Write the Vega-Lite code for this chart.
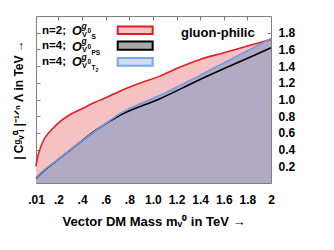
{
  "$schema": "https://vega.github.io/schema/vega-lite/v6.json",
  "width": 235,
  "height": 167,
  "autosize": {"type": "none"},
  "padding": {"left": 36, "top": 16, "right": 63, "bottom": 67},
  "datasets": {
    "curves": [
      {"series": "red", "m": 0.01, "v": 0.20},
      {"series": "red", "m": 0.02, "v": 0.29},
      {"series": "red", "m": 0.04, "v": 0.39},
      {"series": "red", "m": 0.07, "v": 0.50},
      {"series": "red", "m": 0.1, "v": 0.57},
      {"series": "red", "m": 0.15, "v": 0.65},
      {"series": "red", "m": 0.2, "v": 0.72},
      {"series": "red", "m": 0.3, "v": 0.82},
      {"series": "red", "m": 0.4, "v": 0.89},
      {"series": "red", "m": 0.5, "v": 0.96},
      {"series": "red", "m": 0.6, "v": 1.02},
      {"series": "red", "m": 0.72, "v": 1.10},
      {"series": "red", "m": 0.9, "v": 1.20},
      {"series": "red", "m": 1.06, "v": 1.28},
      {"series": "red", "m": 1.2, "v": 1.37},
      {"series": "red", "m": 1.4, "v": 1.48},
      {"series": "red", "m": 1.6, "v": 1.56},
      {"series": "red", "m": 1.8, "v": 1.64},
      {"series": "red", "m": 2.0, "v": 1.72},
      {"series": "blue", "m": 0.01, "v": 0.06},
      {"series": "blue", "m": 0.1, "v": 0.18},
      {"series": "blue", "m": 0.18, "v": 0.26},
      {"series": "blue", "m": 0.35, "v": 0.45},
      {"series": "blue", "m": 0.52, "v": 0.63},
      {"series": "blue", "m": 0.72, "v": 0.83},
      {"series": "blue", "m": 1.06, "v": 1.05},
      {"series": "blue", "m": 1.4, "v": 1.29},
      {"series": "blue", "m": 1.7, "v": 1.51},
      {"series": "blue", "m": 2.0, "v": 1.73},
      {"series": "black", "m": 0.01, "v": 0.055},
      {"series": "black", "m": 0.1, "v": 0.175},
      {"series": "black", "m": 0.18, "v": 0.26},
      {"series": "black", "m": 0.35, "v": 0.45},
      {"series": "black", "m": 0.52, "v": 0.635},
      {"series": "black", "m": 0.72, "v": 0.81},
      {"series": "black", "m": 1.06, "v": 1.01},
      {"series": "black", "m": 1.4, "v": 1.24},
      {"series": "black", "m": 1.7, "v": 1.43},
      {"series": "black", "m": 2.0, "v": 1.62}
    ]
  },
  "resolve": {"axis": {"x": "independent", "y": "independent"}},
  "layer": [
    {
      "data": {"name": "curves"},
      "transform": [{"filter": "datum.series == 'red'"}],
      "mark": {"type": "area", "fill": "#f5c1c3", "interpolate": "monotone"},
      "encoding": {
        "x": {"field": "m", "type": "quantitative", "scale": {"domain": [0.01, 2], "nice": false, "zero": false},
          "axis": {"orient": "bottom", "values": [0.01, 0.2, 0.4, 0.6, 0.8, 1.0, 1.2, 1.4, 1.6, 1.8, 2],
            "labelExpr": "datum.value == 0.01 ? '.01' : datum.value == 2 ? '2' : datum.value < 1 ? replace(format(datum.value, '.1f'), '0.', '.') : format(datum.value, '.1f')",
            "labelPadding": 15, "labelFlush": false, "title": "Vector DM Mass mᵥ⁰ in TeV →", "titlePadding": 10}},
        "y": {"field": "v", "type": "quantitative", "scale": {"domain": [0, 2], "nice": false},
          "axis": {"orient": "left", "values": [0.2, 0.4, 0.6, 0.8, 1.0, 1.2, 1.4, 1.6, 1.8], "labels": false,
            "title": "| Cᵍᵥ⁰ᵢ |⁻¹ᐟⁿ Λ in  TeV →", "titleFontSize": 12, "titlePadding": 10}},
        "y2": {"datum": 0}
      }
    },
    {
      "data": {"name": "curves"},
      "transform": [{"filter": "datum.series == 'blue'"}],
      "mark": {"type": "area", "fill": "#b2a9c4", "interpolate": "monotone"},
      "encoding": {
        "x": {"field": "m", "type": "quantitative",
          "axis": {"orient": "top", "values": [0.2, 0.4, 0.6, 0.8, 1.0, 1.2, 1.4, 1.6, 1.8], "labels": false, "title": null}},
        "y": {"field": "v", "type": "quantitative",
          "axis": {"orient": "right", "values": [0.2, 0.4, 0.6, 0.8, 1.0, 1.2, 1.4, 1.6, 1.8], "format": ".1f", "labelPadding": 11, "title": null}},
        "y2": {"datum": 0}
      }
    },
    {
      "data": {"name": "curves"},
      "transform": [{"filter": "datum.series == 'black'"}],
      "mark": {"type": "area", "fill": "#b2a9c4", "interpolate": "monotone"},
      "encoding": {
        "x": {"field": "m", "type": "quantitative", "axis": null},
        "y": {"field": "v", "type": "quantitative", "axis": null},
        "y2": {"datum": 0}
      }
    },
    {
      "data": {"name": "curves"},
      "transform": [{"filter": "datum.series == 'red'"}],
      "mark": {"type": "line", "stroke": "#e31d25", "strokeWidth": 1.6, "interpolate": "monotone"},
      "encoding": {
        "x": {"field": "m", "type": "quantitative", "axis": null},
        "y": {"field": "v", "type": "quantitative", "axis": null}
      }
    },
    {
      "data": {"name": "curves"},
      "transform": [{"filter": "datum.series == 'black'"}],
      "mark": {"type": "line", "stroke": "#000000", "strokeWidth": 1.6, "interpolate": "monotone"},
      "encoding": {
        "x": {"field": "m", "type": "quantitative", "axis": null},
        "y": {"field": "v", "type": "quantitative", "axis": null}
      }
    },
    {
      "data": {"name": "curves"},
      "transform": [{"filter": "datum.series == 'blue'"}],
      "mark": {"type": "line", "stroke": "#6e9de6", "strokeWidth": 1.6, "interpolate": "monotone"},
      "encoding": {
        "x": {"field": "m", "type": "quantitative", "axis": null},
        "y": {"field": "v", "type": "quantitative", "axis": null}
      }
    },
    {
      "data": {"values": [{"label": "gluon-philic"}]},
      "mark": {"type": "text", "font": "Liberation Sans", "fontWeight": "bold", "fontSize": 13, "align": "center", "baseline": "middle"},
      "encoding": {
        "x": {"datum": 1.55, "type": "quantitative", "axis": null},
        "y": {"datum": 1.80, "type": "quantitative", "axis": null},
        "text": {"field": "label"}
      }
    },
    {
      "data": {"values": [{"entry": "S"}]},
      "mark": {"type": "rect", "fill": "#f6c3c4", "stroke": "#e31d25", "strokeWidth": 2},
      "encoding": {
        "x": {"datum": 0.702, "type": "quantitative", "axis": null}, "x2": {"datum": 0.998},
        "y": {"datum": 1.875, "type": "quantitative", "axis": null}, "y2": {"datum": 1.784}
      }
    },
    {
      "data": {"values": [{"entry": "PS"}]},
      "mark": {"type": "rect", "fill": "#a9a9a9", "stroke": "#000000", "strokeWidth": 2},
      "encoding": {
        "x": {"datum": 0.702, "type": "quantitative", "axis": null}, "x2": {"datum": 0.998},
        "y": {"datum": 1.696, "type": "quantitative", "axis": null}, "y2": {"datum": 1.597}
      }
    },
    {
      "data": {"values": [{"entry": "T2"}]},
      "mark": {"type": "rect", "fill": "#cfdcf3", "stroke": "#7aa6ea", "strokeWidth": 2},
      "encoding": {
        "x": {"datum": 0.702, "type": "quantitative", "axis": null}, "x2": {"datum": 0.998},
        "y": {"datum": 1.497, "type": "quantitative", "axis": null}, "y2": {"datum": 1.405}
      }
    },
    {
      "data": {"values": [{"t": "n=2;"}]},
      "mark": {"type": "text", "font": "Liberation Sans", "fontWeight": "bold", "fontSize": 11.5, "align": "left", "baseline": "middle"},
      "encoding": {"x": {"datum": 0.061, "type": "quantitative", "axis": null}, "y": {"datum": 1.823, "type": "quantitative", "axis": null}, "text": {"field": "t"}}
    },
    {
      "data": {"values": [{"t": "n=4;"}]},
      "mark": {"type": "text", "font": "Liberation Sans", "fontWeight": "bold", "fontSize": 11.5, "align": "left", "baseline": "middle"},
      "encoding": {"x": {"datum": 0.061, "type": "quantitative", "axis": null}, "y": {"datum": 1.636, "type": "quantitative", "axis": null}, "text": {"field": "t"}}
    },
    {
      "data": {"values": [{"t": "n=4;"}]},
      "mark": {"type": "text", "font": "Liberation Sans", "fontWeight": "bold", "fontSize": 11.5, "align": "left", "baseline": "middle"},
      "encoding": {"x": {"datum": 0.061, "type": "quantitative", "axis": null}, "y": {"datum": 1.453, "type": "quantitative", "axis": null}, "text": {"field": "t"}}
    },
    {
      "data": {"values": [{"t": "O"}]},
      "mark": {"type": "text", "font": "Liberation Sans", "fontWeight": "bold", "fontStyle": "italic", "fontSize": 12.5, "align": "left", "baseline": "middle", "dx": 30, "dy": 0.5},
      "encoding": {"x": {"datum": 0.061, "type": "quantitative", "axis": null}, "y": {"datum": 1.823, "type": "quantitative", "axis": null}, "text": {"field": "t"}}
    },
    {
      "data": {"values": [{"t": "O"}]},
      "mark": {"type": "text", "font": "Liberation Sans", "fontWeight": "bold", "fontStyle": "italic", "fontSize": 12.5, "align": "left", "baseline": "middle", "dx": 30, "dy": 0.5},
      "encoding": {"x": {"datum": 0.061, "type": "quantitative", "axis": null}, "y": {"datum": 1.636, "type": "quantitative", "axis": null}, "text": {"field": "t"}}
    },
    {
      "data": {"values": [{"t": "O"}]},
      "mark": {"type": "text", "font": "Liberation Sans", "fontWeight": "bold", "fontStyle": "italic", "fontSize": 12.5, "align": "left", "baseline": "middle", "dx": 30, "dy": 0.5},
      "encoding": {"x": {"datum": 0.061, "type": "quantitative", "axis": null}, "y": {"datum": 1.453, "type": "quantitative", "axis": null}, "text": {"field": "t"}}
    },
    {
      "data": {"values": [{"t": "g"}]},
      "mark": {"type": "text", "font": "Liberation Sans", "fontWeight": "bold", "fontStyle": "italic", "fontSize": 8.5, "align": "left", "baseline": "middle", "dx": 39.5, "dy": -5},
      "encoding": {"x": {"datum": 0.061, "type": "quantitative", "axis": null}, "y": {"datum": 1.823, "type": "quantitative", "axis": null}, "text": {"field": "t"}}
    },
    {
      "data": {"values": [{"t": "g"}]},
      "mark": {"type": "text", "font": "Liberation Sans", "fontWeight": "bold", "fontStyle": "italic", "fontSize": 8.5, "align": "left", "baseline": "middle", "dx": 39.5, "dy": -5},
      "encoding": {"x": {"datum": 0.061, "type": "quantitative", "axis": null}, "y": {"datum": 1.636, "type": "quantitative", "axis": null}, "text": {"field": "t"}}
    },
    {
      "data": {"values": [{"t": "g"}]},
      "mark": {"type": "text", "font": "Liberation Sans", "fontWeight": "bold", "fontStyle": "italic", "fontSize": 8.5, "align": "left", "baseline": "middle", "dx": 39.5, "dy": -5},
      "encoding": {"x": {"datum": 0.061, "type": "quantitative", "axis": null}, "y": {"datum": 1.453, "type": "quantitative", "axis": null}, "text": {"field": "t"}}
    },
    {
      "data": {"values": [{"t": "V"}]},
      "mark": {"type": "text", "font": "Liberation Sans", "fontWeight": "bold", "fontSize": 7.5, "align": "left", "baseline": "middle", "dx": 40, "dy": 4},
      "encoding": {"x": {"datum": 0.061, "type": "quantitative", "axis": null}, "y": {"datum": 1.823, "type": "quantitative", "axis": null}, "text": {"field": "t"}}
    },
    {
      "data": {"values": [{"t": "V"}]},
      "mark": {"type": "text", "font": "Liberation Sans", "fontWeight": "bold", "fontSize": 7.5, "align": "left", "baseline": "middle", "dx": 40, "dy": 4},
      "encoding": {"x": {"datum": 0.061, "type": "quantitative", "axis": null}, "y": {"datum": 1.636, "type": "quantitative", "axis": null}, "text": {"field": "t"}}
    },
    {
      "data": {"values": [{"t": "V"}]},
      "mark": {"type": "text", "font": "Liberation Sans", "fontWeight": "bold", "fontSize": 7.5, "align": "left", "baseline": "middle", "dx": 40, "dy": 4},
      "encoding": {"x": {"datum": 0.061, "type": "quantitative", "axis": null}, "y": {"datum": 1.453, "type": "quantitative", "axis": null}, "text": {"field": "t"}}
    },
    {
      "data": {"values": [{"t": "0"}]},
      "mark": {"type": "text", "font": "Liberation Sans", "fontWeight": "bold", "fontSize": 6.5, "align": "left", "baseline": "middle", "dx": 45.5, "dy": 0.5},
      "encoding": {"x": {"datum": 0.061, "type": "quantitative", "axis": null}, "y": {"datum": 1.823, "type": "quantitative", "axis": null}, "text": {"field": "t"}}
    },
    {
      "data": {"values": [{"t": "0"}]},
      "mark": {"type": "text", "font": "Liberation Sans", "fontWeight": "bold", "fontSize": 6.5, "align": "left", "baseline": "middle", "dx": 45.5, "dy": 0.5},
      "encoding": {"x": {"datum": 0.061, "type": "quantitative", "axis": null}, "y": {"datum": 1.636, "type": "quantitative", "axis": null}, "text": {"field": "t"}}
    },
    {
      "data": {"values": [{"t": "0"}]},
      "mark": {"type": "text", "font": "Liberation Sans", "fontWeight": "bold", "fontSize": 6.5, "align": "left", "baseline": "middle", "dx": 45.5, "dy": 0.5},
      "encoding": {"x": {"datum": 0.061, "type": "quantitative", "axis": null}, "y": {"datum": 1.453, "type": "quantitative", "axis": null}, "text": {"field": "t"}}
    },
    {
      "data": {"values": [{"t": "S"}]},
      "mark": {"type": "text", "font": "Liberation Sans", "fontWeight": "bold", "fontSize": 6.5, "align": "left", "baseline": "middle", "dx": 49.5, "dy": 6.5},
      "encoding": {"x": {"datum": 0.061, "type": "quantitative", "axis": null}, "y": {"datum": 1.823, "type": "quantitative", "axis": null}, "text": {"field": "t"}}
    },
    {
      "data": {"values": [{"t": "PS"}]},
      "mark": {"type": "text", "font": "Liberation Sans", "fontWeight": "bold", "fontSize": 6.5, "align": "left", "baseline": "middle", "dx": 49.5, "dy": 6.5},
      "encoding": {"x": {"datum": 0.061, "type": "quantitative", "axis": null}, "y": {"datum": 1.636, "type": "quantitative", "axis": null}, "text": {"field": "t"}}
    },
    {
      "data": {"values": [{"t": "T"}]},
      "mark": {"type": "text", "font": "Liberation Sans", "fontWeight": "bold", "fontSize": 6.5, "align": "left", "baseline": "middle", "dx": 49.5, "dy": 6.5},
      "encoding": {"x": {"datum": 0.061, "type": "quantitative", "axis": null}, "y": {"datum": 1.453, "type": "quantitative", "axis": null}, "text": {"field": "t"}}
    },
    {
      "data": {"values": [{"t": "2"}]},
      "mark": {"type": "text", "font": "Liberation Sans", "fontWeight": "bold", "fontSize": 5, "align": "left", "baseline": "middle", "dx": 53.5, "dy": 8.5},
      "encoding": {"x": {"datum": 0.061, "type": "quantitative", "axis": null}, "y": {"datum": 1.453, "type": "quantitative", "axis": null}, "text": {"field": "t"}}
    }
  ],
  "config": {
    "view": {"stroke": "#808080", "strokeWidth": 1},
    "axis": {
      "domain": false, "grid": false,
      "tickColor": "#808080", "tickSize": -4, "tickWidth": 1,
      "labelFont": "Liberation Sans", "labelFontWeight": "bold", "labelFontSize": 12, "labelColor": "#000000",
      "titleFont": "Liberation Sans", "titleFontWeight": "bold", "titleFontSize": 13, "titleColor": "#000000"
    }
  }
}
